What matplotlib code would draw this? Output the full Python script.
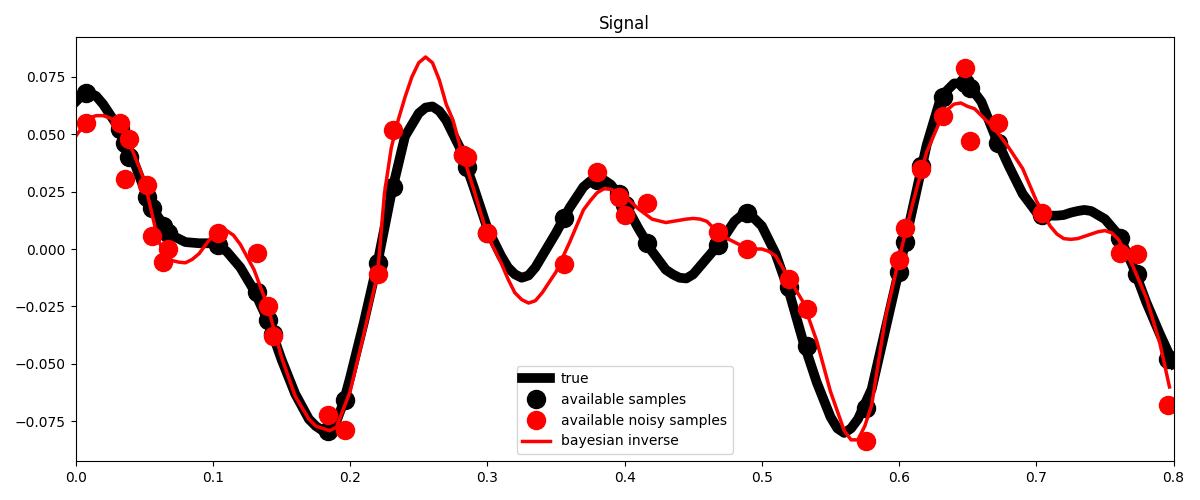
import numpy as np
import matplotlib
matplotlib.use("Agg")
import matplotlib.pyplot as plt

# true signal (extra readings near the turns)
true_x = [0.00, 0.005, 0.01, 0.015, 0.02, 0.03, 0.04, 0.05, 0.06, 0.07, 0.08, 0.09,
          0.10, 0.11, 0.12, 0.13, 0.14, 0.15, 0.16, 0.17, 0.175, 0.18, 0.185, 0.19, 0.195,
          0.20, 0.21, 0.22, 0.23, 0.24, 0.25, 0.255, 0.26, 0.265, 0.27, 0.28, 0.29,
          0.30, 0.31, 0.315, 0.32, 0.325, 0.33, 0.335, 0.34, 0.35, 0.36, 0.37, 0.375, 0.38, 0.385, 0.39,
          0.40, 0.41, 0.42, 0.43, 0.435, 0.44, 0.445, 0.45, 0.46, 0.47, 0.48, 0.485, 0.49, 0.495,
          0.50, 0.51, 0.52, 0.53, 0.54, 0.55, 0.555, 0.56, 0.565, 0.57, 0.58, 0.59,
          0.60, 0.61, 0.62, 0.63, 0.635, 0.64, 0.645, 0.65, 0.655, 0.66, 0.67, 0.68, 0.69,
          0.70, 0.71, 0.715, 0.72, 0.725, 0.73, 0.735, 0.74, 0.75, 0.76, 0.77, 0.78, 0.79, 0.80]
true_y = [0.064, 0.067, 0.068, 0.0665, 0.063, 0.054, 0.042, 0.026, 0.014, 0.006, 0.003, 0.0025,
          0.0025, -0.001, -0.008, -0.018, -0.031, -0.048, -0.063, -0.074, -0.077, -0.079, -0.0795, -0.075, -0.067,
          -0.056, -0.032, -0.006, 0.024, 0.049, 0.059, 0.0615, 0.062, 0.060, 0.056, 0.044, 0.027,
          0.009, -0.003, -0.008, -0.011, -0.0125, -0.0115, -0.008, -0.003, 0.007, 0.018, 0.027, 0.0295, 0.031, 0.030, 0.028,
          0.020, 0.009, -0.001, -0.009, -0.011, -0.0125, -0.0128, -0.011, -0.004, 0.003, 0.012, 0.0145, 0.015, 0.013,
          0.010, -0.002, -0.019, -0.040, -0.058, -0.073, -0.078, -0.080, -0.078, -0.074, -0.061, -0.035,
          -0.009, 0.018, 0.045, 0.065, 0.069, 0.072, 0.072, 0.071, 0.068, 0.064, 0.049, 0.036, 0.024,
          0.016, 0.0145, 0.0145, 0.0148, 0.0158, 0.0165, 0.017, 0.0165, 0.013, 0.006, -0.007, -0.023, -0.037, -0.050]

# bayesian inverse estimate
inv_x = [0.00, 0.01, 0.015, 0.02, 0.025, 0.03, 0.04, 0.05, 0.06, 0.065, 0.07, 0.075, 0.08, 0.085, 0.09,
         0.10, 0.105, 0.11, 0.115, 0.12, 0.13, 0.14, 0.15, 0.16, 0.17, 0.175, 0.18, 0.185, 0.19,
         0.20, 0.21, 0.22, 0.225, 0.23, 0.235, 0.24, 0.245, 0.25, 0.255, 0.26, 0.265, 0.27, 0.275, 0.28, 0.29,
         0.30, 0.31, 0.315, 0.32, 0.325, 0.33, 0.335, 0.34, 0.35, 0.36, 0.37, 0.375, 0.38, 0.385, 0.39, 0.395,
         0.40, 0.41, 0.42, 0.43, 0.435, 0.44, 0.445, 0.45, 0.455, 0.46, 0.47, 0.48, 0.49, 0.495,
         0.50, 0.505, 0.51, 0.52, 0.53, 0.54, 0.55, 0.56, 0.565, 0.57, 0.575, 0.58, 0.59,
         0.60, 0.61, 0.62, 0.63, 0.635, 0.64, 0.645, 0.65, 0.655, 0.66, 0.67, 0.68, 0.69,
         0.70, 0.71, 0.715, 0.72, 0.725, 0.73, 0.735, 0.74, 0.745, 0.75, 0.755, 0.76, 0.77, 0.78, 0.79, 0.797]
inv_y = [0.049, 0.057, 0.058, 0.058, 0.057, 0.055, 0.045, 0.030, 0.004, -0.002, -0.005, -0.0057, -0.006, -0.0045, -0.002,
         0.006, 0.0075, 0.008, 0.006, 0.002, -0.009, -0.025, -0.047, -0.064, -0.074, -0.077, -0.078, -0.079, -0.0775,
         -0.062, -0.037, -0.011, 0.024, 0.044, 0.056, 0.066, 0.0748, 0.081, 0.0835, 0.081, 0.0735, 0.063, 0.056, 0.045, 0.026,
         0.006, -0.006, -0.013, -0.019, -0.022, -0.0235, -0.0225, -0.019, -0.010, 0.003, 0.017, 0.021, 0.0245, 0.0262, 0.026, 0.0245,
         0.023, 0.0175, 0.013, 0.0115, 0.012, 0.0125, 0.013, 0.0133, 0.013, 0.012, 0.006, 0.003, 0.000, 0.000,
         0.000, -0.001, -0.003, -0.013, -0.023, -0.040, -0.062, -0.079, -0.083, -0.083, -0.077, -0.068, -0.030,
         -0.004, 0.020, 0.042, 0.056, 0.0605, 0.063, 0.0635, 0.062, 0.061, 0.058, 0.052, 0.044, 0.035,
         0.021, 0.010, 0.0065, 0.0045, 0.0042, 0.0045, 0.0055, 0.0065, 0.0075, 0.008, 0.007, 0.004, -0.007, -0.021, -0.041, -0.060]

# sample locations with clean and noisy values
samp_x = [0.0073, 0.032, 0.036, 0.039, 0.052, 0.056, 0.064, 0.067, 0.1035, 0.132,
          0.140, 0.1435, 0.1836, 0.196, 0.220, 0.231, 0.282, 0.285, 0.300, 0.356,
          0.380, 0.396, 0.400, 0.416, 0.468, 0.489, 0.520, 0.533, 0.576, 0.600,
          0.604, 0.616, 0.632, 0.648, 0.652, 0.672, 0.704, 0.761, 0.773, 0.796]
samp_y = [0.068, 0.052, 0.046, 0.040, 0.0226, 0.018, 0.010, 0.007, 0.0017, -0.0187,
          -0.031, -0.037, -0.079, -0.0657, -0.006, 0.027, 0.041, 0.0357, 0.007, 0.0135,
          0.030, 0.024, 0.019, 0.0026, 0.0017, 0.0157, -0.0165, -0.042, -0.069, -0.010,
          0.003, 0.036, 0.066, 0.072, 0.070, 0.046, 0.015, 0.005, -0.011, -0.048]
noisy_y = [0.0548, 0.0548, 0.0304, 0.048, 0.028, 0.0057, -0.0057, 0.000, 0.007, -0.0017,
           -0.025, -0.038, -0.072, -0.0787, -0.011, 0.0517, 0.041, 0.040, 0.007, -0.0065,
           0.0335, 0.0226, 0.0148, 0.020, 0.0072, 0.000, -0.013, -0.026, -0.0835, -0.0048,
           0.009, 0.035, 0.058, 0.0787, 0.047, 0.055, 0.0157, -0.0017, -0.0022, -0.068]

fig, ax = plt.subplots(figsize=(12, 5), dpi=100)
ax.plot(true_x, true_y, color="black", linewidth=7, solid_joinstyle="round", label="true")
ax.plot(samp_x, samp_y, "o", color="black", markersize=13, label="available samples")
ax.plot(samp_x, noisy_y, "o", color="red", markersize=13, label="available noisy samples")
ax.plot(inv_x, inv_y, color="red", linewidth=2.5, solid_joinstyle="round", label="bayesian inverse")

ax.set_xlim(0, 0.8)
ax.set_ylim(-0.0922, 0.0922)
ax.set_title("Signal")
ax.legend(loc="lower center")

fig.subplots_adjust(left=0.063, right=0.978, top=0.926, bottom=0.078)
fig.savefig("out.png")
